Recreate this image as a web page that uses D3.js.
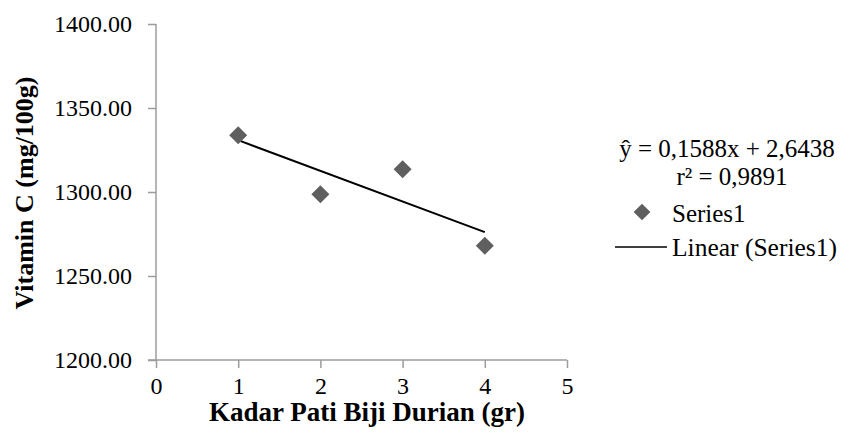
<!DOCTYPE html>
<html>
<head>
<meta charset="utf-8">
<script src="https://cdn.jsdelivr.net/npm/d3@7"></script>
<style>
  html, body { margin: 0; padding: 0; background: #fff; }
  svg { display: block; }
  text { font-family: "Liberation Serif", "Times New Roman", serif; fill: #000; }
</style>
</head>
<body>
<svg id="chart" width="852" height="444"></svg>
<script>
// ---- data ----
const xValues = [1, 2, 3, 4];
const vitaminC = [1333.8, 1298.6, 1313.5, 1268.0];
const xTicks = [0, 1, 2, 3, 4, 5];
const yTicks = [1200, 1250, 1300, 1350, 1400];
const xTitle = "Kadar Pati Biji Durian (gr)";
const yTitle = "Vitamin C (mg/100g)";
const equationText = "ŷ = 0,1588x + 2,6438";
const r2Text = "r² = 0,9891";
const seriesName = "Series1";
const trendName = "Linear (Series1)";

// ---- layout ----
const svg = d3.select("#chart");
const plotL = 156, plotR = 567, plotT = 24, plotB = 360;
const x = d3.scaleLinear().domain([0, 5]).range([plotL, plotR]);
const y = d3.scaleLinear().domain([1200, 1400]).range([plotB, plotT]);
const axisColor = "#9c9c9c";
const markerColor = "#5f5f5f";

// axes
const xAxis = svg.append("g").attr("transform", `translate(0,${plotB})`)
  .call(d3.axisBottom(x).tickValues(xTicks).tickFormat(d3.format("d")).tickSize(8).tickPadding(9));
const yAxis = svg.append("g").attr("transform", `translate(${plotL},0)`)
  .call(d3.axisLeft(y).tickValues(yTicks).tickFormat(d3.format(".2f")).tickSize(8).tickPadding(16));
[xAxis, yAxis].forEach(g => {
  g.select(".domain").attr("stroke", axisColor).attr("stroke-width", 1.5);
  g.selectAll(".tick line").attr("stroke", axisColor).attr("stroke-width", 1.5);
  g.selectAll(".tick text").attr("font-size", 24).attr("fill", "#000")
    .style("font-family", '"Liberation Serif", serif');
});
yAxis.select(".domain").attr("d", `M0,${plotT}V${plotB}`);
xAxis.select(".domain").attr("d", `M${plotL - 8},0H${plotR}`);

// trend line (least squares, as the spreadsheet trendline)
const mx = d3.mean(xValues), my = d3.mean(vitaminC);
const slope = d3.sum(xValues, (v, i) => (v - mx) * (vitaminC[i] - my)) / d3.sum(xValues, v => (v - mx) ** 2);
const icpt = my - slope * mx;
const x0 = d3.min(xValues), x1 = d3.max(xValues);
svg.append("line")
  .attr("x1", x(x0)).attr("y1", y(icpt + slope * x0))
  .attr("x2", x(x1)).attr("y2", y(icpt + slope * x1))
  .attr("stroke", "#000").attr("stroke-width", 2);

// markers (diamonds)
const diamond = d3.symbol(d3.symbolSquare, 162);
svg.append("g").selectAll("path").data(xValues).join("path")
  .attr("d", diamond)
  .attr("transform", (d, i) => `translate(${x(d)},${y(vitaminC[i])}) rotate(45)`)
  .attr("fill", markerColor);

// axis titles
svg.append("text").attr("x", 367).attr("y", 421).attr("text-anchor", "middle")
  .attr("font-size", 27).attr("font-weight", "bold").text(xTitle);
svg.append("text").attr("transform", "translate(33,193) rotate(-90)").attr("text-anchor", "middle")
  .attr("font-size", 26).attr("font-weight", "bold").text(yTitle);

// legend
svg.append("text").attr("x", 727).attr("y", 157).attr("text-anchor", "middle")
  .attr("font-size", 25).text(equationText);
svg.append("text").attr("x", 732).attr("y", 185).attr("text-anchor", "middle")
  .attr("font-size", 25).text(r2Text);
svg.append("path").attr("d", d3.symbol(d3.symbolSquare, 140))
  .attr("transform", "translate(642,212) rotate(45)").attr("fill", markerColor);
svg.append("text").attr("x", 672).attr("y", 222).attr("font-size", 25).text(seriesName);
svg.append("line").attr("x1", 615).attr("x2", 667).attr("y1", 247).attr("y2", 247)
  .attr("stroke", "#000").attr("stroke-width", 1.5);
svg.append("text").attr("x", 672).attr("y", 256).attr("font-size", 25.5).text(trendName);
</script>
</body>
</html>
